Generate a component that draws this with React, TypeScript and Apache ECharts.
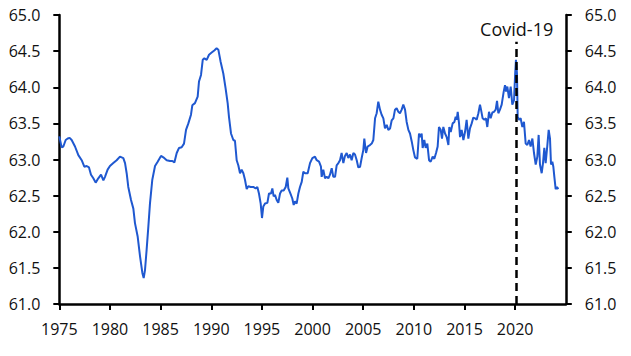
import React, { useEffect, useRef } from "react";
import * as echarts from "echarts";

const dates: number[] = [
  1975.0, 1975.23, 1975.4, 1975.63, 1975.83, 1976.02, 1976.22, 1976.55, 1976.88, 1977.21,
  1977.47, 1977.7, 1977.93, 1978.13, 1978.36, 1978.59, 1978.85, 1979.12, 1979.35, 1979.51,
  1979.77, 1980.0, 1980.33, 1980.66, 1980.99, 1981.32, 1981.49, 1981.65, 1981.81, 1982.08,
  1982.31, 1982.47, 1982.74, 1982.97, 1983.2, 1983.33, 1983.46, 1983.62, 1983.79, 1983.95,
  1984.18, 1984.45, 1984.71, 1985.04, 1985.27, 1985.6, 1985.93, 1986.16, 1986.36, 1986.59,
  1986.82, 1987.08, 1987.31, 1987.51, 1987.74, 1988.0, 1988.13, 1988.39, 1988.66, 1988.79,
  1988.99, 1989.16, 1989.32, 1989.55, 1989.78, 1990.04, 1990.3, 1990.53, 1990.7, 1990.93,
  1991.19, 1991.42, 1991.62, 1991.75, 1991.95, 1992.18, 1992.34, 1992.51, 1992.67, 1992.84,
  1993.0, 1993.17, 1993.33, 1993.5, 1993.66, 1993.89, 1994.15, 1994.38, 1994.55, 1994.71,
  1994.88, 1995.01, 1995.14, 1995.31, 1995.54, 1995.7, 1995.9, 1996.03, 1996.16, 1996.29,
  1996.46, 1996.62, 1996.79, 1996.95, 1997.15, 1997.35, 1997.51, 1997.61, 1997.81, 1998.0,
  1998.14, 1998.27, 1998.43, 1998.6, 1998.76, 1998.93, 1999.09, 1999.26, 1999.52, 1999.75,
  1999.98, 2000.24, 2000.41, 2000.64, 2000.83, 2000.9, 2001.06, 2001.23, 2001.39, 2001.56,
  2001.72, 2001.89, 2002.05, 2002.22, 2002.38, 2002.55, 2002.71, 2002.87, 2003.04, 2003.2,
  2003.37, 2003.53, 2003.7, 2003.86, 2004.03, 2004.19, 2004.36, 2004.52, 2004.69, 2004.85,
  2005.01, 2005.11, 2005.28, 2005.44, 2005.67, 2005.84, 2006.0, 2006.17, 2006.33, 2006.49,
  2006.66, 2006.82, 2006.99, 2007.15, 2007.32, 2007.48, 2007.65, 2007.81, 2007.98, 2008.14,
  2008.3, 2008.47, 2008.63, 2008.8, 2008.96, 2009.13, 2009.29, 2009.46, 2009.62, 2009.79,
  2009.95, 2010.11, 2010.34, 2010.51, 2010.64, 2010.77, 2010.87, 2011.03, 2011.17, 2011.33,
  2011.5, 2011.66, 2011.86, 2012.02, 2012.19, 2012.35, 2012.48, 2012.65, 2012.78, 2012.91,
  2013.08, 2013.24, 2013.41, 2013.5, 2013.64, 2013.83, 2014.0, 2014.13, 2014.23, 2014.33,
  2014.46, 2014.56, 2014.72, 2014.89, 2015.05, 2015.21, 2015.38, 2015.54, 2015.71, 2015.87,
  2016.04, 2016.2, 2016.37, 2016.53, 2016.63, 2016.79, 2016.96, 2017.12, 2017.25, 2017.42,
  2017.58, 2017.75, 2017.91, 2018.08, 2018.21, 2018.34, 2018.5, 2018.67, 2018.87, 2019.0,
  2019.1, 2019.23, 2019.39, 2019.56, 2019.72, 2019.89, 2019.99, 2020.08, 2020.18, 2020.25,
  2020.38, 2020.54, 2020.71, 2020.87, 2021.04, 2021.2, 2021.37, 2021.53, 2021.7, 2021.86,
  2022.03, 2022.19, 2022.32, 2022.45, 2022.62, 2022.75, 2022.88, 2023.01, 2023.18, 2023.31,
  2023.44, 2023.54, 2023.67, 2023.77, 2023.87, 2024.0, 2024.13, 2024.26,
];

// Series values (%)
const values: number[] = [
  63.32, 63.17, 63.18, 63.27, 63.29, 63.3, 63.27, 63.18, 63.06, 62.99,
  62.9, 62.91, 62.89, 62.79, 62.74, 62.68, 62.74, 62.79, 62.71, 62.76,
  62.86, 62.91, 62.95, 62.99, 63.04, 63.02, 62.95, 62.81, 62.62, 62.44,
  62.32, 62.12, 61.93, 61.66, 61.43, 61.36, 61.47, 61.75, 62.07, 62.39,
  62.72, 62.91, 62.97, 63.05, 63.03, 62.99, 62.98, 62.98, 62.96, 63.09,
  63.16, 63.17, 63.22, 63.41, 63.5, 63.62, 63.75, 63.78, 63.87, 64.08,
  64.17, 64.38, 64.4, 64.38, 64.45, 64.48, 64.51, 64.54, 64.52, 64.35,
  64.19, 63.98, 63.78, 63.59, 63.36, 63.27, 63.26, 62.99, 62.92, 62.81,
  62.86, 62.81, 62.72, 62.59, 62.63, 62.62, 62.62, 62.6, 62.62, 62.53,
  62.39, 62.19, 62.35, 62.39, 62.4, 62.53, 62.53, 62.6, 62.49, 62.51,
  62.44, 62.4, 62.53, 62.57, 62.57, 62.62, 62.75, 62.6, 62.53, 62.46,
  62.37, 62.42, 62.39, 62.53, 62.62, 62.69, 62.83, 62.81, 62.81, 62.95,
  63.02, 63.04, 62.99, 62.97, 62.9, 62.76, 62.86, 62.74, 62.76, 62.74,
  62.79, 62.88, 62.76, 62.76, 62.92, 62.95, 62.99, 63.09, 62.95, 63.05,
  63.09, 63.02, 63.07, 62.99, 63.09, 63.07, 62.99, 62.89, 62.9, 63.02,
  63.13, 63.29, 63.09, 63.18, 63.2, 63.22, 63.27, 63.57, 63.64, 63.8,
  63.69, 63.62, 63.57, 63.43, 63.48, 63.41, 63.43, 63.54, 63.57, 63.69,
  63.71, 63.66, 63.64, 63.69, 63.76, 63.69, 63.52, 63.41, 63.36, 63.25,
  63.13, 63.03, 63.01, 63.36, 63.31, 63.36, 63.16, 63.27, 63.16, 63.22,
  62.99, 62.97, 63.04, 63.01, 63.09, 63.18, 63.45, 63.41, 63.29, 63.45,
  63.36, 63.31, 63.2, 63.45, 63.38, 63.5, 63.52, 63.59, 63.55, 63.66,
  63.5, 63.31, 63.41, 63.27, 63.38, 63.55, 63.29, 63.43, 63.5, 63.58,
  63.57, 63.55, 63.64, 63.76, 63.69, 63.57, 63.55, 63.57, 63.45, 63.66,
  63.57, 63.65, 63.66, 63.69, 63.81, 63.64, 63.69, 63.76, 63.94, 64.03,
  63.94, 64.01, 63.85, 64.01, 63.76, 63.82, 64.15, 64.38, 64.19, 63.59,
  63.55, 63.57, 63.45, 63.52, 63.22, 63.2, 63.27, 63.18, 63.29, 63.09,
  62.93, 63.04, 63.34, 62.93, 62.81, 62.95, 63.16, 62.95, 63.2, 63.41,
  63.29, 62.93, 62.97, 62.9, 62.76, 62.59, 62.62, 62.59,
];

const xTickYears: number[] = [1975, 1980, 1985, 1990, 1995, 2000, 2005, 2010, 2015, 2020];
const yTicks: number[] = [61.0, 61.5, 62.0, 62.5, 63.0, 63.5, 64.0, 64.5, 65.0];
const covidDate = 2020.15;
const covidLabel = "Covid-19";

const FONT = "'Open Sans', 'Noto Sans', sans-serif";

export default function App() {
  const ref = useRef<HTMLDivElement>(null);

  useEffect(() => {
    if (!ref.current) return;
    const chart = echarts.init(ref.current, undefined, { renderer: "svg" });
    const data = dates.map((d, i) => [d, values[i]]);

    const yAxisCommon = {
      type: "value" as const,
      min: yTicks[0],
      max: yTicks[yTicks.length - 1],
      interval: 0.5,
      splitLine: { show: false },
      axisLine: { show: true, lineStyle: { color: "#000", width: 2.5 } },
      axisTick: { show: true, inside: false, length: 6, lineStyle: { color: "#000", width: 2 } },
      axisLabel: {
        color: "#111",
        fontFamily: FONT,
        fontSize: 16,
        margin: 19,
        formatter: (v: number) => v.toFixed(1),
      },
    };

    chart.setOption({
      animation: false,
      backgroundColor: "#fff",
      grid: { left: 59.3, right: 65.2, top: 15, bottom: 52, containLabel: false },
      xAxis: {
        type: "value",
        min: 1975,
        max: 2025,
        interval: 5,
        splitLine: { show: false },
        axisLine: { show: true, onZero: false, lineStyle: { color: "#000", width: 2.5 } },
        axisTick: { show: true, inside: false, length: 6, lineStyle: { color: "#000", width: 2 } },
        axisLabel: {
          color: "#111",
          fontFamily: FONT,
          fontSize: 16,
          margin: 17,
          showMaxLabel: false,
          formatter: (v: number) => (xTickYears.includes(v) ? String(v) : ""),
        },
      },
      yAxis: [
        { ...yAxisCommon, position: "left" },
        { ...yAxisCommon, position: "right" },
      ],
      series: [
        {
          type: "line",
          data,
          yAxisIndex: 0,
          showSymbol: false,
          symbol: "none",
          lineStyle: { color: "#1F58D0", width: 2 },
          itemStyle: { color: "#1F58D0" },
          markLine: {
            silent: true,
            symbol: ["none", "none"],
            lineStyle: { color: "#000", width: 2.5, type: [8, 5] },
            label: {
              show: true,
              position: "end",
              formatter: covidLabel,
              color: "#111",
              fontFamily: FONT,
              fontSize: 18,
              distance: 4,
            },
            data: [
              [
                { coord: [covidDate, 61] },
                { coord: [covidDate, 64.63] },
              ],
            ],
          },
        },
      ],
    });

    return () => chart.dispose();
  }, []);

  return (
    <div
      ref={ref}
      style={{ position: "fixed", left: 0, top: 0, width: 631, height: 356 }}
    />
  );
}
